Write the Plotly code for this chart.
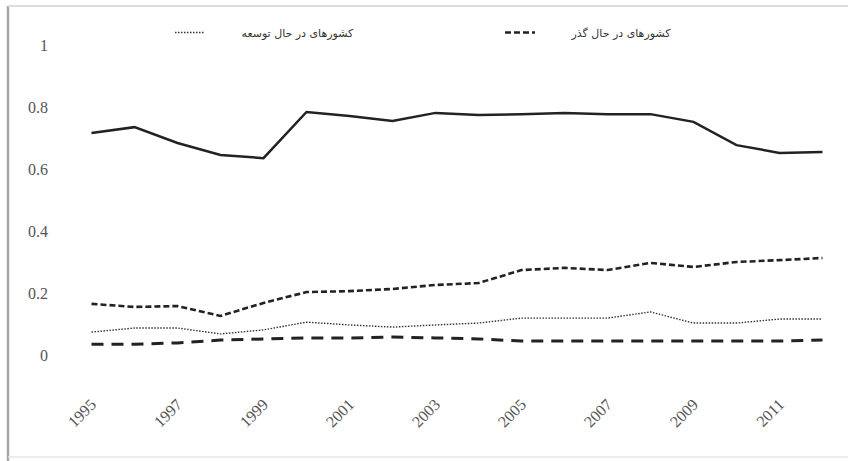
import plotly.graph_objects as go

years = list(range(1995, 2013))

# developed (thick solid)
developed = [0.716, 0.735, 0.684, 0.645, 0.635, 0.784, 0.771, 0.755, 0.781, 0.774,
             0.777, 0.781, 0.777, 0.777, 0.752, 0.677, 0.652, 0.655]
# transition (short dash)
transition = [0.165, 0.155, 0.158, 0.126, 0.168, 0.203, 0.206, 0.213, 0.226, 0.232,
              0.274, 0.281, 0.274, 0.297, 0.284, 0.300, 0.306, 0.313]
# developing (dotted)
developing = [0.074, 0.087, 0.087, 0.068, 0.081, 0.106, 0.097, 0.090, 0.097, 0.103,
              0.119, 0.119, 0.119, 0.139, 0.103, 0.103, 0.116, 0.116]
# other (long dash)
other = [0.035, 0.035, 0.039, 0.048, 0.052, 0.055, 0.055, 0.058, 0.055, 0.052,
         0.045, 0.045, 0.045, 0.045, 0.045, 0.045, 0.045, 0.048]

y_ticks = [0, 0.2, 0.4, 0.6, 0.8, 1]
y_tick_labels = ["0", "0.2", "0.4", "0.6", "0.8", "1"]
x_ticks = list(range(1995, 2012, 2))

name_developing = "کشورهای در حال توسعه"
name_transition = "کشورهای در حال گذر"
name_developed = "کشورهای توسعه یافته"
name_other = "سایر کشورها"

pad = "\u00a0" * 9
ink = "#222222"
fig = go.Figure()
fig.add_trace(go.Scatter(x=years, y=developing, mode="lines", name=pad + name_developing,
                         line=dict(color="#333333", width=1.4, dash="1.5px,1.5px")))
fig.add_trace(go.Scatter(x=years, y=transition, mode="lines", name=pad + name_transition,
                         line=dict(color=ink, width=2.6, dash="6px,3px")))
fig.add_trace(go.Scatter(x=years, y=developed, mode="lines", name=name_developed,
                         showlegend=False, line=dict(color=ink, width=2.5)))
fig.add_trace(go.Scatter(x=years, y=other, mode="lines", name=name_other,
                         showlegend=False, line=dict(color=ink, width=3, dash="12px,8px")))

W, H = 848, 461
ml, mr, mt, mb = 70, 4, 45, 106
pw, ph = W - ml - mr, H - mt - mb

def px_to_paper_x(px):
    return (px - ml) / pw

def px_to_paper_y(py):
    return (H - mb - py) / ph

fig.update_layout(
    width=W, height=H,
    margin=dict(l=ml, r=mr, t=mt, b=mb),
    paper_bgcolor="white", plot_bgcolor="white",
    font=dict(family="Liberation Serif, DejaVu Sans", color="#444444", size=12),
    xaxis=dict(range=[1994.5, 2012.5], tickvals=x_ticks, ticktext=[str(v) for v in x_ticks],
               tickangle=-45, showgrid=False, zeroline=False, showline=False,
               ticks="", ticklabelstandoff=36,
               tickfont=dict(size=16, color="#555555")),
    yaxis=dict(range=[0, 1], tickvals=y_ticks, ticktext=y_tick_labels,
               showgrid=False, zeroline=False, showline=False, ticks="",
               ticklabelstandoff=21,
               tickfont=dict(size=16, color="#555555")),
    legend=dict(orientation="h", x=px_to_paper_x(170), y=px_to_paper_y(18),
                xanchor="left", yanchor="top", entrywidth=285, entrywidthmode="pixels",
                font=dict(size=11, color="#333333", family="DejaVu Sans"),
                bgcolor="rgba(0,0,0,0)"),
    showlegend=True,
)

# scan frame: left and top border lines
fig.add_shape(type="line", xref="paper", yref="paper",
              x0=px_to_paper_x(8), x1=px_to_paper_x(8),
              y0=px_to_paper_y(6), y1=px_to_paper_y(461),
              line=dict(color="#a8a8a8", width=2.5))
fig.add_shape(type="line", xref="paper", yref="paper",
              x0=px_to_paper_x(8), x1=px_to_paper_x(848),
              y0=px_to_paper_y(6), y1=px_to_paper_y(6),
              line=dict(color="#dddddd", width=2))
fig.add_shape(type="line", xref="paper", yref="paper",
              x0=px_to_paper_x(8), x1=px_to_paper_x(848),
              y0=px_to_paper_y(457), y1=px_to_paper_y(457),
              line=dict(color="#e6e6e6", width=1.5))

fig.write_html("out.html", config={"displayModeBar": False},
               post_script="document.body.style.margin='0';")
